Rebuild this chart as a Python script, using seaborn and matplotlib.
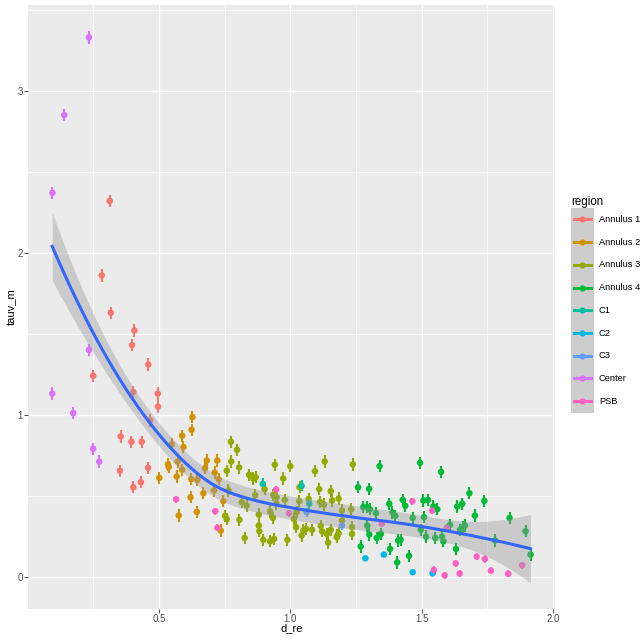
import numpy as np
import pandas as pd
import matplotlib
matplotlib.use("Agg")
import matplotlib.pyplot as plt
import seaborn as sns
from matplotlib.legend_handler import HandlerBase
from matplotlib.patches import Rectangle
from matplotlib.lines import Line2D
from matplotlib.ticker import MultipleLocator

# ---------------- data ----------------
regions = ["Annulus 1", "Annulus 2", "Annulus 3", "Annulus 4",
           "C1", "C2", "C3", "Center", "PSB"]
colors = ["#F8766D", "#D39200", "#93AA00", "#00BA38",
          "#00C19F", "#00B9E3", "#619CFF", "#DB72FB", "#FF61C3"]

center_x = [0.094, 0.139, 0.233, 0.093, 0.173, 0.233, 0.249, 0.272]
center_y = [2.37, 2.85, 3.33, 1.13, 1.01, 1.40, 0.79, 0.71]

a1_x = [0.312, 0.282, 0.316, 0.406, 0.397, 0.459, 0.249, 0.402, 0.495, 0.496,
        0.466, 0.354, 0.395, 0.434, 0.351, 0.458, 0.402, 0.431]
a1_y = [2.32, 1.86, 1.63, 1.52, 1.43, 1.31, 1.24, 1.14, 1.13, 1.05,
        0.965, 0.866, 0.833, 0.833, 0.654, 0.672, 0.552, 0.583]

a2_x = [0.627, 0.624, 0.588, 0.593, 0.548, 0.534, 0.537, 0.501, 0.567, 0.588,
        0.571, 0.623, 0.646, 0.682, 0.722, 0.675, 0.712, 0.727, 0.620, 0.669,
        0.575, 0.644, 0.745, 0.735, 0.709]
a2_y = [0.985, 0.907, 0.870, 0.800, 0.816, 0.693, 0.676, 0.610, 0.618, 0.660,
        0.711, 0.602, 0.598, 0.717, 0.717, 0.670, 0.643, 0.602, 0.490, 0.515,
        0.377, 0.400, 0.466, 0.284, 0.532]

a3_x = [0.774, 0.797, 0.775, 0.758, 0.805, 0.843, 0.859, 0.868, 0.941, 1.000,
        0.973, 0.866, 0.935, 0.752, 0.758, 0.806, 0.826, 0.880, 0.880, 0.882,
        0.897, 0.923, 0.938, 0.989, 0.934, 0.923, 0.834, 0.815, 0.764, 1.013,
        1.024, 1.035, 0.947, 0.948, 1.131, 1.094, 1.238, 0.902, 1.110, 1.154,
        1.070, 1.034, 1.113, 1.128, 1.159, 1.184, 0.979, 1.022, 1.050, 1.060,
        1.043, 1.083, 1.116, 1.121, 1.139, 1.144, 1.154, 1.179, 1.184, 1.197,
        1.197, 1.235, 1.235, 1.232, 1.177]
a3_y = [0.833, 0.783, 0.711, 0.654, 0.674, 0.629, 0.606, 0.614, 0.691, 0.682,
        0.606, 0.503, 0.505, 0.375, 0.354, 0.351, 0.239, 0.383, 0.315, 0.280,
        0.227, 0.218, 0.233, 0.227, 0.363, 0.402, 0.439, 0.460, 0.532, 0.357,
        0.398, 0.552, 0.450, 0.490, 0.711, 0.651, 0.693, 0.540, 0.540, 0.528,
        0.480, 0.466, 0.460, 0.445, 0.470, 0.482, 0.474, 0.305, 0.284, 0.295,
        0.254, 0.289, 0.313, 0.280, 0.264, 0.210, 0.289, 0.254, 0.268, 0.408,
        0.346, 0.305, 0.264, 0.416, 0.243]

a4_x = [1.340, 1.494, 1.574, 1.258, 1.300, 1.682, 1.739, 1.835, 1.896, 1.915,
        1.780, 1.703, 1.655, 1.636, 1.657, 1.665, 1.646, 1.608, 1.631, 1.583,
        1.578, 1.552, 1.517, 1.497, 1.509, 1.466, 1.507, 1.524, 1.545, 1.560,
        1.428, 1.438, 1.377, 1.389, 1.400, 1.278, 1.293, 1.303, 1.293, 1.301,
        1.329, 1.345, 1.268, 1.380, 1.411, 1.420, 1.407, 1.452, 1.326]
a4_y = [0.682, 0.703, 0.647, 0.552, 0.542, 0.515, 0.468, 0.363, 0.280, 0.136,
        0.223, 0.377, 0.450, 0.433, 0.305, 0.315, 0.289, 0.320, 0.171, 0.218,
        0.247, 0.239, 0.247, 0.289, 0.367, 0.363, 0.470, 0.474, 0.433, 0.416,
        0.474, 0.437, 0.450, 0.396, 0.375, 0.429, 0.429, 0.416, 0.315, 0.260,
        0.239, 0.264, 0.186, 0.171, 0.223, 0.227, 0.088, 0.128, 0.392]

c1_x = [0.895, 1.043, 1.072]
c1_y = [0.573, 0.561, 0.450]

c2_x = [1.286, 1.356, 1.466, 1.542]
c2_y = [0.113, 0.136, 0.027, 0.020]

c3_x = [1.062, 1.197]
c3_y = [0.398, 0.315]

psb_x = [0.565, 0.714, 0.722, 0.946, 0.995, 1.348, 1.465, 1.540, 1.596, 1.547,
         1.588, 1.645, 1.630, 1.710, 1.741, 1.764, 1.830, 1.883]
psb_y = [0.478, 0.404, 0.301, 0.538, 0.392, 0.326, 0.466, 0.408, 0.301, 0.041,
         0.008, 0.019, 0.082, 0.124, 0.109, 0.037, 0.017, 0.070]

# half-width of the error range per region
region_err = [0.038, 0.038, 0.038, 0.038, 0.033, 0.012, 0.028, 0.038, 0.022]

xs_by_region = [a1_x, a2_x, a3_x, a4_x, c1_x, c2_x, c3_x, center_x, psb_x]
ys_by_region = [a1_y, a2_y, a3_y, a4_y, c1_y, c2_y, c3_y, center_y, psb_y]

rows = []
for reg, xv, yv, e in zip(regions, xs_by_region, ys_by_region, region_err):
    for a, b in zip(xv, yv):
        rows.append((reg, a, b, e))
df = pd.DataFrame(rows, columns=["region", "d_re", "tauv_m", "err"])
df["region"] = pd.Categorical(df["region"], categories=regions, ordered=True)


# ---------------- loess (span .75, degree 2) ----------------
def loess_matrix(x, x0s, span=0.75):
    n = len(x)
    q = int(np.floor(n * span))
    L = np.zeros((len(x0s), n))
    for i, x0 in enumerate(x0s):
        d = np.abs(x - x0)
        h = np.sort(d)[q - 1]
        w = np.clip(1 - (d / h) ** 3, 0, None) ** 3
        X = np.column_stack([np.ones(n), x - x0, (x - x0) ** 2])
        XtW = X.T * w
        A = XtW @ X
        L[i] = np.linalg.solve(A, XtW)[0]
    return L


xd = df["d_re"].to_numpy()
yd = df["tauv_m"].to_numpy()
Ld = loess_matrix(xd, xd)
res = yd - Ld @ yd
M = np.eye(len(xd)) - Ld
R = M.T @ M
d1 = np.trace(R)
d2 = np.trace(R @ R)
sigma = np.sqrt(np.sum(res ** 2) / d1)
dof = d1 ** 2 / d2
z = 1.959964
tq = z + (z ** 3 + z) / (4 * dof) + (5 * z ** 5 + 16 * z ** 3 + 3 * z) / (96 * dof ** 2)

xgrid = np.linspace(xd.min(), xd.max(), 80)
Lg = loess_matrix(xd, xgrid)
fit = Lg @ yd
se = sigma * np.sqrt((Lg ** 2).sum(axis=1))
smooth = pd.DataFrame({"d_re": xgrid, "fit": fit,
                       "lo": fit - tq * se, "hi": fit + tq * se})

# ---------------- plot ----------------
plt.rcParams["font.family"] = ["Liberation Sans", "DejaVu Sans"]
fig = plt.figure(figsize=(6.4, 6.4), dpi=100)
L0, R0, T0, B0 = 28.3, 554.7, 5.0, 609.0
W0, H0 = R0 - L0, B0 - T0
ax = fig.add_axes([L0 / 640, 1 - B0 / 640, W0 / 640, H0 / 640])
ax.set_facecolor("#EBEBEB")
for s in ax.spines.values():
    s.set_visible(False)

ax.set_xlim(0.002, 2.007)
ax.set_ylim(-0.2, 3.53)
ax.xaxis.set_major_locator(MultipleLocator(0.5))
ax.xaxis.set_minor_locator(MultipleLocator(0.25))
ax.yaxis.set_major_locator(MultipleLocator(1))
ax.yaxis.set_minor_locator(MultipleLocator(0.5))
ax.grid(which="major", color="white", lw=1.0)
ax.grid(which="minor", color="white", lw=0.5)
ax.set_axisbelow(True)
ax.tick_params(which="major", length=2.75, width=0.6, color="#333333",
               labelsize=7, labelcolor="#4D4D4D", pad=1)
ax.tick_params(which="minor", length=0)
ax.set_xticks([0.5, 1.0, 1.5, 2.0])
ax.set_xticklabels(["0.5", "1.0", "1.5", "2.0"])
ax.set_yticks([0, 1, 2, 3])
ax.set_yticklabels(["0", "1", "2", "3"])

# error ranges
for reg, col in zip(regions, colors):
    sub = df[df["region"] == reg]
    ax.vlines(sub["d_re"], sub["tauv_m"] - sub["err"], sub["tauv_m"] + sub["err"],
              colors=col, lw=1.5, zorder=2)

sns.scatterplot(data=df, x="d_re", y="tauv_m", hue="region",
                palette=dict(zip(regions, colors)), s=22, linewidth=0,
                legend=False, ax=ax, zorder=3)

ax.fill_between(smooth["d_re"], smooth["lo"], smooth["hi"],
                color="#999999", alpha=0.4, lw=0, zorder=4)
sns.lineplot(data=smooth, x="d_re", y="fit", color="#3366FF", lw=2.2,
             ax=ax, zorder=5)

ax.set_xlabel("d_re", fontsize=8, color="black")
ax.set_ylabel("tauv_m", fontsize=8, color="black")
ax.xaxis.set_label_coords(0.5, -(623.5 - B0) / H0)
ax.yaxis.set_label_coords(-(L0 - 16.5) / W0, 0.5)


# legend
class KeyHandler(HandlerBase):
    def create_artists(self, legend, orig_handle, xdescent, ydescent,
                       width, height, fontsize, trans):
        col = orig_handle.get_color()
        rect = Rectangle((-xdescent, -ydescent), width, height,
                         facecolor="#CDCDCD", edgecolor="none", transform=trans)
        yc = -ydescent + height / 2
        line = Line2D([-xdescent + 2, -xdescent + width - 2], [yc, yc],
                      color=col, lw=2.2, transform=trans)
        dot = Line2D([-xdescent + width / 2], [yc], marker="o", ms=4.5,
                     color=col, mec="none", ls="none", transform=trans)
        return [rect, line, dot]


handles = [Line2D([], [], color=c) for c in colors]
leg = ax.legend(handles=handles, labels=regions, handler_map={Line2D: KeyHandler()},
                title="region", loc="upper left",
                bbox_to_anchor=(571 / 640, 1 - 196 / 640),
                bbox_transform=fig.transFigure, frameon=False, borderpad=0,
                borderaxespad=0, handlelength=2.44, handleheight=3.38,
                labelspacing=0, handletextpad=0.55, fontsize=6.7,
                title_fontsize=8.3, alignment="left")

fig.savefig("out.png", dpi=100)
